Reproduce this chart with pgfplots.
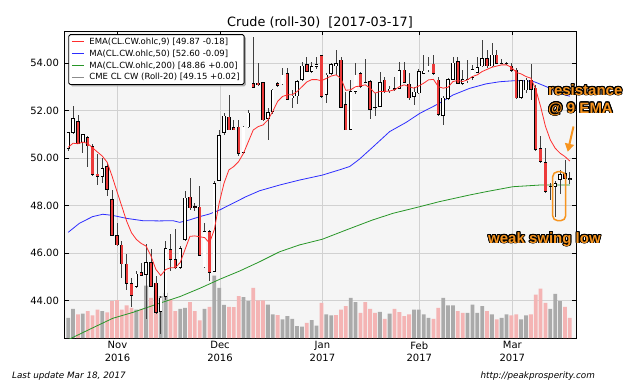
\documentclass[border=0pt]{standalone}
\usepackage{fontspec}
\setmainfont{DejaVu Sans}[ItalicFont={DejaVu Sans Oblique},BoldFont={DejaVu Sans Bold}]
\newfontfamily\annfont{Liberation Sans}
\usepackage{pgfplots}
\pgfplotsset{compat=1.18}
\usepackage{pgfplotstable}
\usetikzlibrary{arrows.meta,shadows}
\usepackage{contour}
\contourlength{0.9pt}
\contournumber{16}

\definecolor{candlered}{RGB}{236,58,58}
\definecolor{emared}{RGB}{255,45,45}
\definecolor{mablue}{RGB}{45,45,255}
\definecolor{magreen}{RGB}{40,150,40}
\definecolor{legray}{RGB}{140,140,140}
\definecolor{volgray}{RGB}{170,170,170}
\definecolor{volpink}{RGB}{244,180,180}
\definecolor{annot}{RGB}{247,148,30}
\definecolor{bggray}{RGB}{245,245,245}

% down candles (open > close)
\pgfplotstableread{
i o h l c
2 51.55 51.83 50.57 50.61
4 50.85 50.92 49.63 50.50
5 50.47 50.57 49.24 49.29
6 49.32 50.15 48.88 49.22
8 49.63 49.80 48.39 48.67
9 48.25 48.67 46.71 46.75
10 46.75 47.27 46.29 46.34
11 46.34 46.50 44.95 45.54
12 45.54 45.94 44.46 44.72
13 44.72 44.95 43.73 44.22
15 45.19 45.56 45.02 45.04
17 45.61 46.15 44.57 44.60
18 44.74 45.02 43.41 43.50
21 46.15 46.78 45.24 45.73
22 45.73 46.99 45.31 45.38
25 48.36 49.17 47.83 47.90
26 47.96 48.10 47.75 47.93
27 47.94 48.80 45.86 45.90
29 46.91 46.98 44.81 45.19
33 51.72 52.66 51.16 51.18
34 51.27 51.60 51.18 51.21
35 51.30 51.60 50.10 50.18
38 53.15 55.10 52.97 52.98
39 53.16 54.01 53.05 53.08
40 53.17 53.20 51.55 51.60
43 53.15 53.20 53.00 53.05
45 53.57 53.78 52.45 52.47
49 53.93 54.27 53.64 53.65
52 54.31 54.34 52.52 52.59
56 54.13 54.27 52.10 52.14
57 52.24 52.80 51.16 51.18
60 53.57 53.64 52.94 53.01
61 53.20 54.15 53.15 53.18
62 53.22 53.29 51.63 52.05
63 52.14 52.73 51.77 52.12
65 53.29 53.43 52.75 52.80
67 52.93 53.43 52.82 52.90
69 53.71 54.06 53.15 53.17
70 53.12 53.57 52.45 52.52
75 53.96 54.34 53.50 53.57
76 53.29 53.43 51.77 51.82
80 54.06 54.27 53.12 53.15
86 54.20 54.55 53.80 53.87
88 54.34 54.55 53.96 53.99
89 53.99 54.15 53.94 53.97
90 53.99 54.05 53.92 53.98
91 53.87 53.99 53.64 53.67
92 53.70 53.78 52.48 52.52
95 53.28 53.95 52.45 52.88
96 52.95 53.08 50.28 50.35
97 50.40 50.92 49.79 49.84
98 49.80 50.40 48.52 48.58
102 49.35 49.90 49.05 49.13
}\downc

% up candles (close >= open)
\pgfplotstableread{
i o h l c
0 50.39 51.10 50.29 51.06
1 51.06 52.21 50.99 51.65
3 50.67 51.00 50.22 50.99
7 49.21 50.00 48.95 49.57
14 44.60 45.23 44.53 45.12
16 45.09 46.36 43.20 45.59
19 43.55 44.18 42.57 44.11
20 44.18 46.50 44.04 46.18
23 45.38 46.29 45.31 46.18
24 46.57 48.60 46.50 48.32
28 45.41 47.26 45.37 46.91
30 45.23 49.01 45.19 48.94
31 49.06 51.18 49.01 50.94
32 51.07 51.89 50.97 51.77
36 50.23 51.35 50.18 51.30
37 51.30 52.03 51.27 51.89
41 51.67 52.10 50.74 51.91
42 51.95 52.90 51.86 52.86
44 53.12 53.78 53.08 53.50
46 52.52 52.87 52.10 52.61
47 52.61 53.29 52.28 53.22
48 53.29 54.06 53.26 53.87
50 53.64 54.06 53.57 53.85
51 53.85 54.25 53.75 53.95
53 52.66 53.57 52.33 53.50
54 53.57 53.99 53.50 53.94
55 53.90 54.55 53.50 53.97
58 51.21 53.29 51.18 52.80
59 52.80 53.99 52.70 53.50
64 52.16 53.64 52.14 53.17
66 52.82 53.03 52.73 52.90
68 52.93 54.04 52.90 53.68
71 52.59 53.00 52.24 52.78
72 52.73 53.73 52.70 53.64
73 53.57 54.34 53.54 53.66
74 53.71 54.27 53.64 53.87
77 51.80 52.60 51.39 52.53
78 52.50 53.36 52.43 53.29
79 53.30 54.27 53.27 54.00
81 53.15 53.71 53.08 53.31
82 53.25 54.13 53.15 53.30
83 53.40 53.90 53.29 53.73
84 53.60 54.27 53.57 53.80
85 53.87 54.97 53.85 54.20
87 53.87 54.85 53.85 54.34
93 52.56 53.30 52.47 53.26
94 52.86 53.35 52.75 53.28
99 48.80 48.95 48.22 48.82
100 48.80 49.05 47.50 48.93
101 49.10 49.50 48.50 49.30
103 49.12 49.40 48.90 49.15
}\upc

\pgfplotstableread{
i v
0 43.27
1 43.65
3 43.45
7 43.55
14 43.62
16 44.63
19 44.18
20 44.32
23 43.65
24 43.69
28 43.65
30 45.05
31 44.53
32 43.82
36 44.14
37 43.97
41 43.83
42 43.41
44 43.20
45 43.34
46 43.23
47 42.92
48 42.90
50 43.17
51 42.94
53 43.41
54 43.37
58 44.11
59 43.93
64 43.52
66 43.45
71 43.62
72 43.62
73 43.41
74 43.27
77 44.11
78 43.79
79 43.79
82 43.48
83 43.83
84 43.48
85 43.76
87 43.41
89 43.27
90 43.41
93 43.20
94 43.37
99 43.65
100 44.28
101 43.97
}\volgraytab

\pgfplotstableread{
i v
2 43.41
4 43.55
5 43.37
6 43.62
8 43.50
9 43.97
10 44.01
11 43.62
12 43.79
13 43.69
15 43.65
17 44.11
18 44.39
21 44.04
22 43.55
25 43.93
26 43.55
27 43.16
29 43.73
33 43.73
34 43.72
35 44.18
38 44.53
39 44.00
40 44.00
43 43.38
49 43.06
52 43.90
55 43.38
56 43.62
57 43.76
60 43.48
61 43.93
62 43.65
63 43.48
65 43.23
67 43.65
68 43.51
69 43.34
70 43.41
75 43.23
76 43.69
80 43.55
81 43.48
86 43.55
88 43.20
91 43.37
92 43.41
95 43.41
96 44.25
97 44.50
98 43.90
102 43.73
103 43.27
}\volpinktab

\pgfplotstableread{
i v
0 50.45
1 50.62
2 50.60
3 50.67
4 50.61
5 50.43
6 50.25
7 50.08
8 49.82
9 49.24
10 48.60
11 47.97
12 47.34
13 46.85
14 46.57
15 46.40
16 46.29
17 45.87
18 45.31
19 45.05
20 45.30
21 45.38
22 45.38
23 45.60
24 46.15
25 46.70
26 46.72
27 46.68
28 46.65
29 46.42
30 46.98
31 48.10
32 48.94
33 49.50
34 49.64
35 49.85
36 50.20
37 50.69
38 51.18
39 51.32
40 51.39
41 51.60
42 51.96
43 52.38
44 52.59
45 52.66
46 52.66
47 52.80
48 53.00
49 53.20
50 53.30
51 53.30
52 53.25
53 53.35
54 53.45
55 53.50
56 53.35
57 52.85
58 52.87
59 53.00
60 53.03
61 53.08
62 52.94
63 52.73
64 52.80
65 52.80
66 52.82
67 52.87
68 53.00
69 53.08
70 53.00
71 52.94
72 53.03
73 53.15
74 53.29
75 53.31
76 53.00
77 52.94
78 52.98
79 53.22
80 53.26
81 53.22
82 53.29
83 53.43
84 53.50
85 53.64
86 53.73
87 53.82
88 53.87
89 53.92
90 53.92
91 53.82
92 53.60
93 53.54
94 53.43
95 53.36
96 52.89
97 52.17
98 51.33
99 50.76
100 50.41
101 50.20
102 50.06
103 49.87
}\ematab

\pgfplotstableread{
i v
0 46.87
2.3 47.25
5 47.53
7.1 47.63
9.2 47.58
11.9 47.46
15.3 47.36
18.7 47.35
21.5 47.36
22.9 47.29
24.9 47.39
27 47.53
29 47.64
31.1 47.81
33.8 48.09
36.5 48.37
39.3 48.62
43.4 48.86
47.5 49.07
52.2 49.28
55.7 49.50
57.8 49.64
59.8 49.95
62.5 50.45
66 51.11
69.4 51.50
72.2 51.88
76.2 52.30
79 52.65
82.4 52.93
85.8 53.12
88.6 53.21
91.3 53.25
94 53.25
95.7 53.21
98.2 53.00
100.9 52.72
103 52.60
}\mafiftytab

\pgfplotstableread{
i v
0 42.35
5.05 42.85
9.16 43.25
13.3 43.50
18.7 43.88
22.9 44.16
27 44.51
31.2 44.90
35.2 45.24
39.3 45.63
43.4 46.05
47.5 46.34
52.2 46.58
57.1 46.97
62.5 47.39
66.7 47.67
72.2 47.95
76.2 48.16
82.4 48.44
85.8 48.58
91.3 48.79
96.8 48.86
103 48.86
}\matwotab

\pgfplotsset{
  wick/.style={forget plot, draw=none, mark=none,
    error bars/.cd, y dir=both, y explicit, error mark=none,
    error bar style={draw=black!75, line width=0.7pt}},
  bodyline/.style 2 args={forget plot, draw=none, mark=none,
    error bars/.cd, y dir=both, y explicit, error mark=none,
    error bar style={draw=#1, line width=#2}},
  legline/.style={legend image code/.code={%
    \pgfsetstrokecolor{#1}\pgfsetlinewidth{1.2pt}%
    \pgfpathmoveto{\pgfpoint{0pt}{0pt}}\pgfpathlineto{\pgfpoint{12pt}{0pt}}%
    \pgfusepath{stroke}}},
}

\begin{document}
\begin{tikzpicture}
\useasboundingbox (0,0) rectangle (640pt,384pt);
\begin{axis}[
  at={(64.5pt,46pt)}, anchor=south west,
  x=4.87pt, y=23.75pt,
  xmin=-0.76, xmax=104.37, ymin=42.42, ymax=55.35,
  axis background/.style={fill=bggray},
  axis line style={black, line width=0.8pt},
  grid=major,
  grid style={black!18, line width=0.7pt},
  tick align=inside,
  major tick length=4pt,
  tick style={black, line width=0.6pt},
  ytick={44,46,48,50,52,54},
  yticklabels={44.00,46.00,48.00,50.00,52.00,54.00},
  xtick={10.12,31.17,52.2,72.1,91.2},
  xticklabels={{Nov\\2016},{Dec\\2016},{Jan\\2017},{Feb\\2017},{Mar\\2017}},
  xticklabel style={align=center, font=\fontsize{10}{12.5}\selectfont},
  yticklabel style={font=\fontsize{10}{12}\selectfont, xshift=-2pt},
  legend style={at={(0,1)}, anchor=north west, xshift=3.8pt, yshift=-3.3pt,
    font=\fontsize{8.5}{10}\selectfont, draw=black, line width=0.9pt, fill=white,
    rounded corners=1.5pt, inner xsep=2.5pt, inner ysep=1pt,
    cells={anchor=west},
    /tikz/every odd column/.append style={column sep=3pt},
    drop shadow={shadow xshift=1.8pt, shadow yshift=-1.8pt, fill=black!40, opacity=0.8}},
]
\addplot[ybar, bar width=3.8pt, bar shift=0pt, fill=volgray, draw=none, forget plot] table[x=i,y=v]{\volgraytab};
\addplot[ybar, bar width=3.8pt, bar shift=0pt, fill=volpink, draw=none, forget plot] table[x=i,y=v]{\volpinktab};
\addplot[magreen, line width=0.8pt, forget plot] table[x=i,y=v]{\matwotab};
\addplot[mablue, line width=0.8pt, forget plot] table[x=i,y=v]{\mafiftytab};
% wicks
\addplot[wick] table[x=i, y expr={(\thisrow{h}+\thisrow{l})/2}, y error expr={(\thisrow{h}-\thisrow{l})/2}]{\downc};
\addplot[wick] table[x=i, y expr={(\thisrow{h}+\thisrow{l})/2}, y error expr={(\thisrow{h}-\thisrow{l})/2}]{\upc};
% bodies: black outline, then fill
\addplot[bodyline={black}{3.4pt}] table[x=i, y expr={(\thisrow{o}+\thisrow{c})/2}, y error expr={abs(\thisrow{o}-\thisrow{c})/2+0.0147}]{\downc};
\addplot[bodyline={candlered}{2.2pt}] table[x=i, y expr={(\thisrow{o}+\thisrow{c})/2}, y error expr={max(abs(\thisrow{o}-\thisrow{c})/2-0.0147,0)}]{\downc};
\addplot[bodyline={black}{3.4pt}] table[x=i, y expr={(\thisrow{o}+\thisrow{c})/2}, y error expr={abs(\thisrow{o}-\thisrow{c})/2+0.0147}]{\upc};
\addplot[bodyline={white}{2.2pt}] table[x=i, y expr={(\thisrow{o}+\thisrow{c})/2}, y error expr={max(abs(\thisrow{o}-\thisrow{c})/2-0.0147,0)}]{\upc};
\addplot[emared, line width=0.8pt, forget plot] table[x=i,y=v]{\ematab};
\addlegendimage{legline=emared}
\addlegendentry{EMA(CL.CW.ohlc,9) [49.87 -0.18]}
\addlegendimage{legline=mablue}
\addlegendentry{MA(CL.CW.ohlc,50) [52.60 -0.09]}
\addlegendimage{legline=magreen}
\addlegendentry{MA(CL.CW.ohlc,200) [48.86 +0.00]}
\addlegendimage{legline=legray}
\addlegendentry{CME CL CW (Roll-20) [49.15 +0.02]}
\end{axis}
\node[anchor=base, inner sep=0, font=\fontsize{12.8}{15}\selectfont] at (320pt,358pt) {Crude (roll-30)\ \ [2017-03-17]};
\node[anchor=base west, inner sep=0, font=\fontsize{8.8}{10}\selectfont\itshape] at (12pt,6pt) {Last update Mar 18, 2017};
\node[anchor=base east, inner sep=0, font=\fontsize{8.8}{10}\selectfont\itshape] at (595pt,6pt) {http://peakprosperity.com};
\draw[annot, line width=1.5pt, rounded corners=5pt] (552.7pt,212.3pt) rectangle (565.7pt,163.3pt);
\draw[annot, line width=2pt, -{Triangle[width=9pt,length=8pt]}] (573.5pt,257.5pt) -- (567.7pt,232.3pt);
\node[anchor=base west, inner sep=0, font=\annfont\bfseries\fontsize{15}{18}\selectfont, text=annot] at (548pt,289pt) {\contour{black}{resistance}};
\node[anchor=base west, inner sep=0, font=\annfont\bfseries\fontsize{15}{18}\selectfont, text=annot] at (548pt,271pt) {\contour{black}{@ 9 EMA}};
\node[anchor=base west, inner sep=0, font=\annfont\bfseries\fontsize{15}{18}\selectfont, text=annot] at (488pt,141pt) {\contour{black}{weak swing low}};
\end{tikzpicture}
\end{document}
